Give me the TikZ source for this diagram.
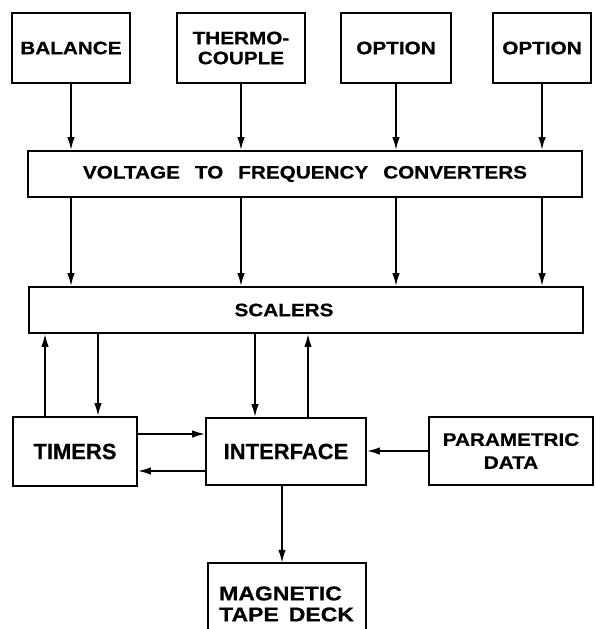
\documentclass[tikz,border=0pt]{standalone}
\usepackage{fontspec}
\newfontfamily\nf{Liberation Sans}[FakeBold=0.5]
\newfontfamily\wf{Liberation Sans}[FakeStretch=1.15,FakeBold=0.6]
\usetikzlibrary{arrows.meta}
\begin{document}
\begin{tikzpicture}[x=1pt,y=-1pt,
  box/.style={draw, line width=1.8pt, inner sep=0pt, align=center},
  wtext/.style={font=\wf\bfseries\fontsize{18}{20}\selectfont, align=center, inner sep=0pt},
  ntext/.style={font=\nf\bfseries\fontsize{22}{24}\selectfont, align=center, inner sep=0pt},
  arr/.style={line width=1.8pt, -{Latex[length=13pt,width=7.5pt]}}]
\useasboundingbox (0,0) rectangle (596,629);
% top row
\node[box, wtext, minimum width=118pt, minimum height=70pt] (bal) at (71,48) {BALANCE};
\node[box, wtext, minimum width=128pt, minimum height=70pt] (thm) at (241,48) {THERMO-\\COUPLE};
\node[box, wtext, minimum width=110pt, minimum height=70pt] (op1) at (396,48) {OPTION};
\node[box, wtext, minimum width=98pt, minimum height=70pt] (op2) at (542,48) {OPTION};
% bars
\node[box, wtext, minimum width=554pt, minimum height=46pt] (vfc) at (305,174) {VOLTAGE\hspace{15pt}TO\hspace{15pt}FREQUENCY\hspace{15pt}CONVERTERS};
\node[box, minimum width=554pt, minimum height=46pt] (scal) at (306,310) {};
\node[wtext] (scaltxt) at (284,310) {SCALERS};
% lower row
\node[box, ntext, minimum width=124pt, minimum height=69pt] (tim) at (75,451.5) {TIMERS};
\node[box, ntext, minimum width=160pt, minimum height=67pt] (intf) at (286,451.5) {INTERFACE};
\node[box, font=\wf\bfseries\fontsize{18}{23}\selectfont, minimum width=164pt, minimum height=68pt] (par) at (511,451) {PARAMETRIC\\DATA};
% tape deck (open bottom)
\node[minimum width=158pt, minimum height=77pt, inner sep=0pt] (tape) at (287,601.5) {};
\draw[line width=1.8pt] (tape.south west) -- (tape.north west) -- (tape.north east) -- (tape.south east);
\node[font=\wf\bfseries\fontsize{20}{21}\selectfont, align=left, inner sep=0pt, anchor=west] (tapetxt) at (219,604) {MAGNETIC\\TAPE\hspace{10pt}DECK};
% arrows top -> vfc -> scalers
\foreach \n in {bal,thm,op1,op2}{
  \draw[arr] (\n) -- (\n |- vfc.north);
  \draw[arr] (\n |- vfc.south) -- (\n |- scal.north);
}
% scalers <-> timers / interface
\draw[arr] ([xshift=-30pt]tim.north) -- ([xshift=-30pt]tim.north |- scal.south);
\draw[arr] ([xshift=23pt]tim.north |- scal.south) -- ([xshift=23pt]tim.north);
\draw[arr] ([xshift=-31pt]intf.north |- scal.south) -- ([xshift=-31pt]intf.north);
\draw[arr] ([xshift=22pt]intf.north) -- ([xshift=22pt]intf.north |- scal.south);
% timers <-> interface
\draw[arr] ([yshift=17.5pt]tim.east) -- ([yshift=17.5pt]tim.east -| intf.west);
\draw[arr] ([yshift=-19.5pt]intf.west) -- ([yshift=-19.5pt]intf.west -| tim.east);
% parametric -> interface
\draw[arr] (par.west) -- (par.west -| intf.east);
% interface -> tape
\draw[arr] ([xshift=-4pt]intf.south) -- ([xshift=-4pt]intf.south |- tape.north);
\end{tikzpicture}
\end{document}
